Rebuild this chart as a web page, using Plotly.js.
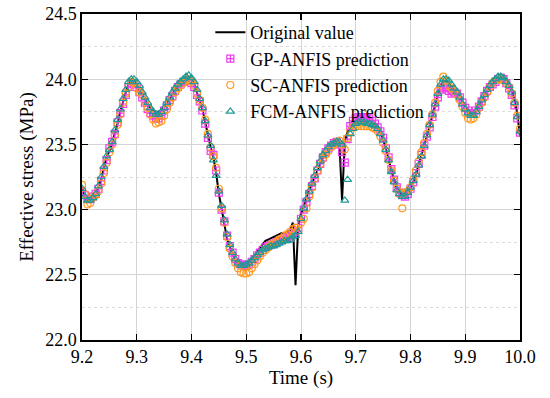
<!DOCTYPE html>
<html>
<head>
<meta charset="utf-8">
<script src="https://cdn.plot.ly/plotly-3.0.1.min.js"></script>
<style>html,body{margin:0;padding:0;background:#fff;}#chart{width:550px;height:398px;}</style>
</head>
<body>
<div id="chart"></div>
<script>
const time = [9.200,9.205,9.210,9.215,9.220,9.225,9.230,9.235,9.240,9.245,9.250,9.255,9.260,9.265,9.270,9.275,9.280,9.285,9.290,9.295,
9.300,9.305,9.310,9.315,9.320,9.325,9.330,9.335,9.340,9.345,9.350,9.355,9.360,9.365,9.370,9.375,9.380,9.385,9.390,9.395,
9.400,9.405,9.410,9.415,9.420,9.425,9.430,9.435,9.440,9.445,9.450,9.455,9.460,9.465,9.470,9.475,9.480,9.485,9.490,9.495,
9.500,9.505,9.510,9.515,9.520,9.525,9.530,9.535,9.540,9.545,9.550,9.555,9.560,9.565,9.570,9.575,9.580,9.585,9.590,9.595,
9.600,9.605,9.610,9.615,9.620,9.625,9.630,9.635,9.640,9.645,9.650,9.655,9.660,9.665,9.670,9.675,9.680,9.685,9.690,9.695,
9.700,9.705,9.710,9.715,9.720,9.725,9.730,9.735,9.740,9.745,9.750,9.755,9.760,9.765,9.770,9.775,9.780,9.785,9.790,9.795,
9.800,9.805,9.810,9.815,9.820,9.825,9.830,9.835,9.840,9.845,9.850,9.855,9.860,9.865,9.870,9.875,9.880,9.885,9.890,9.895,
9.900,9.905,9.910,9.915,9.920,9.925,9.930,9.935,9.940,9.945,9.950,9.955,9.960,9.965,9.970,9.975,9.980,9.985,9.990,9.995,10.000];

const original = [23.17,23.09,23.06,23.07,23.09,23.12,23.17,23.23,23.32,23.40,23.45,23.50,23.59,23.66,23.75,23.83,23.90,23.96,23.99,23.99,
23.96,23.92,23.88,23.84,23.81,23.78,23.76,23.75,23.75,23.76,23.79,23.82,23.85,23.88,23.92,23.95,23.97,23.99,24.01,24.02,
24.00,23.96,23.90,23.84,23.77,23.67,23.56,23.48,23.40,23.28,23.12,22.99,22.89,22.77,22.71,22.66,22.62,22.59,22.57,22.56,
22.57,22.59,22.62,22.65,22.68,22.71,22.74,22.76,22.77,22.78,22.79,22.80,22.81,22.82,22.82,22.83,22.84,22.90,22.42,22.88,
22.97,23.02,23.10,23.15,23.20,23.25,23.31,23.36,23.40,23.43,23.46,23.48,23.50,23.51,23.52,23.07,23.52,23.60,23.64,23.66,
23.67,23.67,23.67,23.67,23.67,23.66,23.65,23.64,23.62,23.59,23.54,23.47,23.39,23.30,23.22,23.16,23.13,23.11,23.11,23.13,
23.17,23.21,23.27,23.34,23.41,23.48,23.56,23.64,23.72,23.79,23.88,23.95,23.98,23.99,23.97,23.94,23.92,23.90,23.87,23.83,
23.79,23.75,23.73,23.73,23.76,23.80,23.84,23.88,23.92,23.95,23.97,23.99,24.01,24.02,24.01,23.99,23.96,23.92,23.84,23.74,23.56];

const gpAnfis = [23.14,23.11,23.08,23.08,23.10,23.12,23.16,23.22,23.30,23.38,23.47,23.52,23.58,23.67,23.74,23.81,23.88,23.94,23.97,23.96,
23.94,23.90,23.86,23.82,23.77,23.74,23.72,23.70,23.70,23.72,23.76,23.80,23.84,23.87,23.91,23.94,23.96,23.98,23.99,23.99,
23.97,23.94,23.88,23.83,23.76,23.66,23.55,23.45,23.42,23.30,23.13,23.00,22.91,22.80,22.72,22.67,22.62,22.59,22.58,22.57,
22.57,22.58,22.60,22.62,22.65,22.67,22.69,22.71,22.72,22.73,22.74,22.75,22.76,22.77,22.78,22.79,22.80,22.82,22.83,22.86,
22.93,23.00,23.06,23.12,23.18,23.24,23.30,23.35,23.40,23.44,23.47,23.49,23.51,23.52,23.50,23.44,23.36,23.54,23.64,23.68,
23.70,23.71,23.71,23.71,23.70,23.70,23.68,23.66,23.63,23.60,23.55,23.47,23.40,23.31,23.23,23.17,23.13,23.11,23.10,23.12,
23.16,23.21,23.28,23.35,23.42,23.49,23.56,23.63,23.71,23.79,23.86,23.92,23.94,23.93,23.91,23.89,23.90,23.89,23.86,23.82,
23.78,23.76,23.74,23.74,23.76,23.79,23.83,23.87,23.91,23.94,23.96,23.98,24.00,24.01,24.00,23.97,23.93,23.88,23.80,23.70,23.59];

const scAnfis = [23.19,23.12,23.04,23.05,23.09,23.11,23.14,23.20,23.28,23.36,23.44,23.50,23.57,23.65,23.73,23.82,23.89,23.94,23.98,23.97,
23.93,23.90,23.88,23.83,23.78,23.73,23.69,23.66,23.67,23.68,23.72,23.77,23.82,23.86,23.90,23.93,23.95,23.97,23.99,24.00,
23.98,23.95,23.89,23.84,23.78,23.69,23.58,23.48,23.41,23.32,23.16,23.01,22.90,22.79,22.70,22.64,22.59,22.55,22.52,22.51,
22.51,22.52,22.55,22.58,22.61,22.64,22.67,22.69,22.71,22.73,22.74,22.75,22.77,22.78,22.80,22.81,22.83,22.85,22.86,22.84,
22.90,22.93,23.01,23.10,23.17,23.24,23.30,23.35,23.39,23.42,23.45,23.48,23.50,23.52,23.53,23.50,23.46,23.55,23.60,23.63,
23.64,23.64,23.64,23.64,23.64,23.64,23.63,23.62,23.60,23.56,23.51,23.45,23.38,23.30,23.22,23.16,23.12,23.01,23.13,23.14,
23.17,23.23,23.30,23.37,23.44,23.51,23.58,23.65,23.73,23.82,23.91,23.98,24.02,23.99,23.95,23.93,23.91,23.88,23.84,23.79,
23.74,23.70,23.69,23.70,23.73,23.78,23.82,23.86,23.90,23.94,23.97,23.99,24.00,24.00,23.99,23.97,23.94,23.89,23.82,23.72,23.62];

const fcmAnfis = [23.16,23.10,23.07,23.07,23.09,23.12,23.18,23.25,23.33,23.41,23.46,23.52,23.61,23.69,23.77,23.85,23.92,23.98,24.00,24.00,
23.98,23.95,23.90,23.86,23.82,23.78,23.75,23.73,23.73,23.75,23.78,23.82,23.86,23.90,23.93,23.96,23.98,24.00,24.02,24.03,
24.01,23.98,23.92,23.85,23.78,23.68,23.57,23.49,23.38,23.26,23.14,23.03,22.92,22.81,22.73,22.67,22.62,22.59,22.57,22.57,
22.58,22.59,22.61,22.63,22.65,22.67,22.69,22.70,22.71,22.72,22.72,22.73,22.74,22.75,22.76,22.76,22.77,22.79,22.80,22.83,
22.93,23.01,23.08,23.14,23.20,23.26,23.32,23.37,23.42,23.45,23.48,23.50,23.51,23.52,23.52,23.50,23.07,23.23,23.58,23.62,
23.66,23.67,23.67,23.67,23.66,23.66,23.65,23.64,23.62,23.58,23.53,23.46,23.38,23.29,23.21,23.15,23.12,23.10,23.10,23.13,
23.17,23.22,23.27,23.34,23.41,23.49,23.57,23.65,23.73,23.81,23.89,23.96,24.00,24.00,23.99,23.96,23.93,23.90,23.86,23.81,
23.77,23.74,23.72,23.72,23.75,23.79,23.84,23.88,23.92,23.95,23.98,24.00,24.02,24.02,24.01,23.98,23.95,23.90,23.82,23.71,23.60];

const seriesNames = ['Original value','GP-ANFIS prediction','SC-ANFIS prediction','FCM-ANFIS prediction'];
const xTickVals = [9.2,9.3,9.4,9.5,9.6,9.7,9.8,9.9,10.0];
const xTickText = ['9.2','9.3','9.4','9.5','9.6','9.7','9.8','9.9','10.0'];
const yTickVals = [22.0,22.5,23.0,23.5,24.0,24.5];
const yTickText = ['22.0','22.5','23.0','23.5','24.0','24.5'];

const font = '"Liberation Serif", "Times New Roman", Times, serif';

const traces = [
  {x: time, y: original, name: seriesNames[0], type: 'scatter', mode: 'lines',
   line: {color: '#000000', width: 2}},
  {x: time, y: gpAnfis, name: seriesNames[1], type: 'scatter', mode: 'markers',
   marker: {symbol: 'square-cross-open', size: 7, color: '#f03cf0', line: {width: 1.2}}},
  {x: time, y: scAnfis, name: seriesNames[2], type: 'scatter', mode: 'markers',
   marker: {symbol: 'circle-open', size: 7, color: '#ff9a1f', line: {width: 1.2}}},
  {x: time, y: fcmAnfis, name: seriesNames[3], type: 'scatter', mode: 'markers',
   marker: {symbol: 'triangle-up-open', size: 7, color: '#1f9a96', line: {width: 1.2}}}
];

const layout = {
  width: 550, height: 398,
  margin: {l: 82, r: 30, t: 14, b: 58},
  paper_bgcolor: '#ffffff', plot_bgcolor: '#ffffff',
  font: {family: font, size: 18, color: '#000'},
  showlegend: true,
  legend: {x: 0.293, y: 1.0, xanchor: 'left', yanchor: 'top', bgcolor: 'rgba(255,255,255,0)',
    borderwidth: 0, font: {family: font, size: 18, color: '#000'}, tracegroupgap: 0},
  xaxis: {
    range: [9.2, 10.0], tickvals: xTickVals, ticktext: xTickText,
    ticks: 'inside', ticklen: 6, tickwidth: 1.2, tickcolor: '#000',
    showline: true, linecolor: '#000', linewidth: 1.6, mirror: 'ticks',
    showgrid: true, gridcolor: '#d4d4d4', gridwidth: 1, zeroline: false,
    tickfont: {family: font, size: 18, color: '#000'},
    title: {text: 'Time (s)', font: {family: font, size: 19, color: '#000'}, standoff: 4}
  },
  yaxis: {
    range: [22.0, 24.5], tickvals: yTickVals, ticktext: yTickText,
    ticks: 'inside', ticklen: 6, tickwidth: 1.2, tickcolor: '#000',
    showline: true, linecolor: '#000', linewidth: 1.6, mirror: 'ticks',
    showgrid: true, gridcolor: '#d4d4d4', gridwidth: 1, zeroline: false,
    minor: {dtick: 0.25, showgrid: true, gridcolor: '#dcdcdc', griddash: 'dot', gridwidth: 1, ticks: ''},
    tickfont: {family: font, size: 18, color: '#000'},
    title: {text: 'Effective stress (MPa)', font: {family: font, size: 19, color: '#000'}, standoff: 6}
  }
};

Plotly.newPlot('chart', traces, layout, {displayModeBar: false, staticPlot: true});
</script>
</body>
</html>
